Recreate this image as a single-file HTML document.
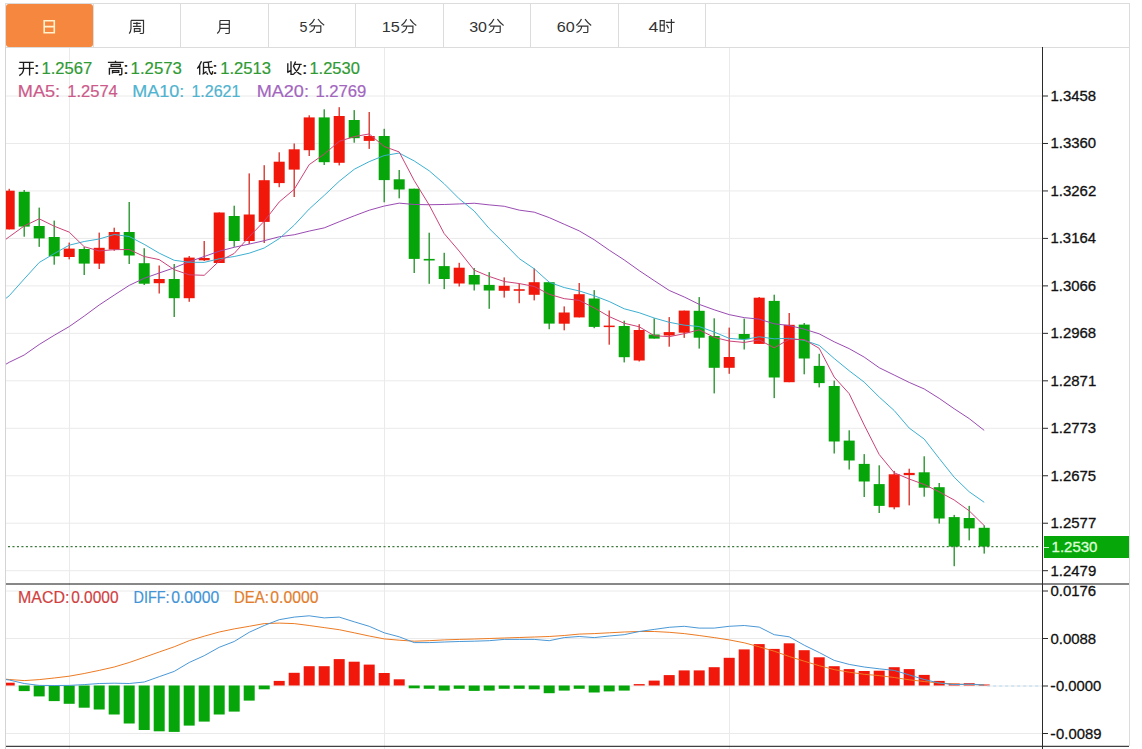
<!DOCTYPE html>
<html><head><meta charset="utf-8"><title>chart</title>
<style>html,body{margin:0;padding:0;background:#fff;width:1142px;height:749px;overflow:hidden;font-family:"Liberation Sans",sans-serif;}
svg{display:block;}</style></head><body>
<svg width="1142" height="749" viewBox="0 0 1142 749" font-family="Liberation Sans, sans-serif">
<defs><clipPath id="cp"><rect x="6" y="48" width="1036" height="535.5"/></clipPath><clipPath id="cm"><rect x="6" y="584.5" width="1036" height="161.5"/></clipPath></defs>
<rect width="1142" height="749" fill="#fff"/>
<rect x="5.5" y="3.5" width="1124" height="44" fill="#fff" stroke="#DCDCDC" stroke-width="1"/>
<line x1="93.5" y1="4" x2="93.5" y2="47" stroke="#DCDCDC"/>
<line x1="180.5" y1="4" x2="180.5" y2="47" stroke="#DCDCDC"/>
<line x1="268.5" y1="4" x2="268.5" y2="47" stroke="#DCDCDC"/>
<line x1="355.5" y1="4" x2="355.5" y2="47" stroke="#DCDCDC"/>
<line x1="443.5" y1="4" x2="443.5" y2="47" stroke="#DCDCDC"/>
<line x1="530.5" y1="4" x2="530.5" y2="47" stroke="#DCDCDC"/>
<line x1="618.5" y1="4" x2="618.5" y2="47" stroke="#DCDCDC"/>
<line x1="705.5" y1="4" x2="705.5" y2="47" stroke="#DCDCDC"/>
<rect x="6" y="4" width="87" height="43" rx="3" fill="#F5873E"/>
<line x1="5.5" y1="47" x2="5.5" y2="749" stroke="#D4D4D4"/>
<line x1="1129.5" y1="47" x2="1129.5" y2="746" stroke="#DCDCDC"/>
<line x1="6" y1="96.00" x2="1042" y2="96.00" stroke="#EAEAEA"/>
<line x1="6" y1="143.47" x2="1042" y2="143.47" stroke="#EAEAEA"/>
<line x1="6" y1="190.94" x2="1042" y2="190.94" stroke="#EAEAEA"/>
<line x1="6" y1="238.41" x2="1042" y2="238.41" stroke="#EAEAEA"/>
<line x1="6" y1="285.88" x2="1042" y2="285.88" stroke="#EAEAEA"/>
<line x1="6" y1="333.35" x2="1042" y2="333.35" stroke="#EAEAEA"/>
<line x1="6" y1="380.82" x2="1042" y2="380.82" stroke="#EAEAEA"/>
<line x1="6" y1="428.29" x2="1042" y2="428.29" stroke="#EAEAEA"/>
<line x1="6" y1="475.76" x2="1042" y2="475.76" stroke="#EAEAEA"/>
<line x1="6" y1="523.23" x2="1042" y2="523.23" stroke="#EAEAEA"/>
<line x1="6" y1="570.70" x2="1042" y2="570.70" stroke="#EAEAEA"/>
<line x1="6" y1="591.00" x2="1042" y2="591.00" stroke="#EAEAEA"/>
<line x1="6" y1="638.50" x2="1042" y2="638.50" stroke="#EAEAEA"/>
<line x1="6" y1="686.00" x2="1042" y2="686.00" stroke="#EAEAEA"/>
<line x1="6" y1="733.50" x2="1042" y2="733.50" stroke="#EAEAEA"/>
<line x1="69.5" y1="48" x2="69.5" y2="749" stroke="#EAEAEA"/>
<line x1="384.5" y1="48" x2="384.5" y2="749" stroke="#EAEAEA"/>
<line x1="729.5" y1="48" x2="729.5" y2="749" stroke="#EAEAEA"/>
<g clip-path="url(#cp)">
<rect x="8.55" y="188.8" width="1.3" height="40.6" fill="#D42A22"/>
<rect x="3.70" y="190.7" width="11.0" height="38.7" fill="#F1180B"/>
<rect x="23.55" y="190.0" width="1.3" height="46.7" fill="#1E8F22"/>
<rect x="18.70" y="191.8" width="11.0" height="34.8" fill="#06A60B"/>
<rect x="38.55" y="207.6" width="1.3" height="39.3" fill="#1E8F22"/>
<rect x="33.70" y="226.0" width="11.0" height="12.4" fill="#06A60B"/>
<rect x="53.55" y="220.6" width="1.3" height="44.1" fill="#1E8F22"/>
<rect x="48.70" y="237.0" width="11.0" height="19.3" fill="#06A60B"/>
<rect x="68.55" y="242.6" width="1.3" height="16.7" fill="#D42A22"/>
<rect x="63.70" y="248.6" width="11.0" height="8.4" fill="#F1180B"/>
<rect x="83.55" y="247.0" width="1.3" height="28.0" fill="#1E8F22"/>
<rect x="78.70" y="249.0" width="11.0" height="14.6" fill="#06A60B"/>
<rect x="98.55" y="232.6" width="1.3" height="36.4" fill="#D42A22"/>
<rect x="93.70" y="247.8" width="11.0" height="15.8" fill="#F1180B"/>
<rect x="113.55" y="227.7" width="1.3" height="23.1" fill="#D42A22"/>
<rect x="108.70" y="232.0" width="11.0" height="17.5" fill="#F1180B"/>
<rect x="128.55" y="202.0" width="1.3" height="62.0" fill="#1E8F22"/>
<rect x="123.70" y="232.0" width="11.0" height="23.5" fill="#06A60B"/>
<rect x="143.55" y="248.2" width="1.3" height="36.8" fill="#1E8F22"/>
<rect x="138.70" y="263.2" width="11.0" height="20.5" fill="#06A60B"/>
<rect x="158.55" y="265.5" width="1.3" height="28.0" fill="#D42A22"/>
<rect x="153.70" y="279.0" width="11.0" height="4.2" fill="#F1180B"/>
<rect x="173.55" y="264.0" width="1.3" height="53.0" fill="#1E8F22"/>
<rect x="168.70" y="279.0" width="11.0" height="19.2" fill="#06A60B"/>
<rect x="188.55" y="256.0" width="1.3" height="45.8" fill="#D42A22"/>
<rect x="183.70" y="257.6" width="11.0" height="40.6" fill="#F1180B"/>
<rect x="203.55" y="241.0" width="1.3" height="20.0" fill="#D42A22"/>
<rect x="198.70" y="258.0" width="11.0" height="2.3" fill="#F1180B"/>
<rect x="218.55" y="212.5" width="1.3" height="50.5" fill="#D42A22"/>
<rect x="213.70" y="212.5" width="11.0" height="50.5" fill="#F1180B"/>
<rect x="233.55" y="205.7" width="1.3" height="41.1" fill="#1E8F22"/>
<rect x="228.70" y="216.0" width="11.0" height="25.0" fill="#06A60B"/>
<rect x="248.55" y="173.4" width="1.3" height="70.6" fill="#D42A22"/>
<rect x="243.70" y="214.5" width="11.0" height="26.5" fill="#F1180B"/>
<rect x="263.55" y="165.2" width="1.3" height="77.8" fill="#D42A22"/>
<rect x="258.70" y="180.2" width="11.0" height="41.7" fill="#F1180B"/>
<rect x="278.55" y="152.3" width="1.3" height="34.9" fill="#D42A22"/>
<rect x="273.70" y="161.7" width="11.0" height="21.4" fill="#F1180B"/>
<rect x="293.55" y="143.5" width="1.3" height="53.5" fill="#D42A22"/>
<rect x="288.70" y="149.3" width="11.0" height="20.3" fill="#F1180B"/>
<rect x="308.55" y="115.3" width="1.3" height="40.7" fill="#D42A22"/>
<rect x="303.70" y="117.4" width="11.0" height="32.8" fill="#F1180B"/>
<rect x="323.55" y="109.3" width="1.3" height="55.7" fill="#1E8F22"/>
<rect x="318.70" y="117.4" width="11.0" height="44.8" fill="#06A60B"/>
<rect x="338.55" y="107.2" width="1.3" height="58.2" fill="#D42A22"/>
<rect x="333.70" y="116.0" width="11.0" height="46.8" fill="#F1180B"/>
<rect x="353.55" y="110.1" width="1.3" height="32.6" fill="#1E8F22"/>
<rect x="348.70" y="120.0" width="11.0" height="18.2" fill="#06A60B"/>
<rect x="368.55" y="112.0" width="1.3" height="36.9" fill="#D42A22"/>
<rect x="363.70" y="136.0" width="11.0" height="4.9" fill="#F1180B"/>
<rect x="383.55" y="128.8" width="1.3" height="73.5" fill="#1E8F22"/>
<rect x="378.70" y="136.0" width="11.0" height="44.1" fill="#06A60B"/>
<rect x="398.55" y="170.0" width="1.3" height="28.3" fill="#1E8F22"/>
<rect x="393.70" y="179.3" width="11.0" height="10.2" fill="#06A60B"/>
<rect x="413.55" y="188.7" width="1.3" height="84.3" fill="#1E8F22"/>
<rect x="408.70" y="188.7" width="11.0" height="70.2" fill="#06A60B"/>
<rect x="428.55" y="232.7" width="1.3" height="51.1" fill="#1E8F22"/>
<rect x="423.70" y="258.9" width="11.0" height="1.6" fill="#06A60B"/>
<rect x="443.55" y="252.8" width="1.3" height="36.3" fill="#1E8F22"/>
<rect x="438.70" y="266.1" width="11.0" height="12.9" fill="#06A60B"/>
<rect x="458.55" y="262.8" width="1.3" height="23.7" fill="#D42A22"/>
<rect x="453.70" y="267.7" width="11.0" height="15.8" fill="#F1180B"/>
<rect x="473.55" y="268.0" width="1.3" height="22.5" fill="#1E8F22"/>
<rect x="468.70" y="275.0" width="11.0" height="9.5" fill="#06A60B"/>
<rect x="488.55" y="272.1" width="1.3" height="36.7" fill="#1E8F22"/>
<rect x="483.70" y="284.9" width="11.0" height="5.6" fill="#06A60B"/>
<rect x="503.55" y="277.4" width="1.3" height="20.2" fill="#D42A22"/>
<rect x="498.70" y="285.8" width="11.0" height="5.0" fill="#F1180B"/>
<rect x="518.55" y="283.4" width="1.3" height="19.8" fill="#D42A22"/>
<rect x="513.70" y="289.2" width="11.0" height="1.6" fill="#F1180B"/>
<rect x="533.55" y="268.4" width="1.3" height="32.0" fill="#D42A22"/>
<rect x="528.70" y="282.2" width="11.0" height="12.6" fill="#F1180B"/>
<rect x="548.55" y="282.2" width="1.3" height="47.0" fill="#1E8F22"/>
<rect x="543.70" y="282.2" width="11.0" height="41.4" fill="#06A60B"/>
<rect x="563.55" y="306.4" width="1.3" height="23.9" fill="#D42A22"/>
<rect x="558.70" y="312.5" width="11.0" height="11.2" fill="#F1180B"/>
<rect x="578.55" y="283.0" width="1.3" height="34.4" fill="#D42A22"/>
<rect x="573.70" y="294.2" width="11.0" height="23.2" fill="#F1180B"/>
<rect x="593.55" y="290.1" width="1.3" height="38.1" fill="#1E8F22"/>
<rect x="588.70" y="298.5" width="11.0" height="28.4" fill="#06A60B"/>
<rect x="608.55" y="310.5" width="1.3" height="34.2" fill="#D42A22"/>
<rect x="603.70" y="325.6" width="11.0" height="1.5" fill="#F1180B"/>
<rect x="623.55" y="320.7" width="1.3" height="41.7" fill="#1E8F22"/>
<rect x="618.70" y="326.0" width="11.0" height="31.2" fill="#06A60B"/>
<rect x="638.55" y="324.2" width="1.3" height="37.3" fill="#D42A22"/>
<rect x="633.70" y="330.0" width="11.0" height="30.5" fill="#F1180B"/>
<rect x="653.55" y="318.3" width="1.3" height="20.3" fill="#1E8F22"/>
<rect x="648.70" y="334.5" width="11.0" height="4.1" fill="#06A60B"/>
<rect x="668.55" y="317.1" width="1.3" height="29.6" fill="#D42A22"/>
<rect x="663.70" y="332.1" width="11.0" height="3.4" fill="#F1180B"/>
<rect x="683.55" y="310.6" width="1.3" height="27.3" fill="#D42A22"/>
<rect x="678.70" y="310.6" width="11.0" height="22.1" fill="#F1180B"/>
<rect x="698.55" y="297.1" width="1.3" height="51.5" fill="#1E8F22"/>
<rect x="693.70" y="310.8" width="11.0" height="26.9" fill="#06A60B"/>
<rect x="713.55" y="318.3" width="1.3" height="75.1" fill="#1E8F22"/>
<rect x="708.70" y="336.0" width="11.0" height="31.8" fill="#06A60B"/>
<rect x="728.55" y="327.6" width="1.3" height="46.2" fill="#D42A22"/>
<rect x="723.70" y="357.0" width="11.0" height="10.8" fill="#F1180B"/>
<rect x="743.55" y="318.6" width="1.3" height="30.9" fill="#1E8F22"/>
<rect x="738.70" y="334.0" width="11.0" height="5.2" fill="#06A60B"/>
<rect x="758.55" y="297.0" width="1.3" height="46.9" fill="#D42A22"/>
<rect x="753.70" y="297.7" width="11.0" height="46.2" fill="#F1180B"/>
<rect x="773.55" y="294.7" width="1.3" height="103.4" fill="#1E8F22"/>
<rect x="768.70" y="300.9" width="11.0" height="76.6" fill="#06A60B"/>
<rect x="788.55" y="313.0" width="1.3" height="69.2" fill="#D42A22"/>
<rect x="783.70" y="324.8" width="11.0" height="57.4" fill="#F1180B"/>
<rect x="803.55" y="323.0" width="1.3" height="51.3" fill="#1E8F22"/>
<rect x="798.70" y="324.6" width="11.0" height="33.9" fill="#06A60B"/>
<rect x="818.55" y="353.8" width="1.3" height="33.6" fill="#1E8F22"/>
<rect x="813.70" y="365.9" width="11.0" height="17.2" fill="#06A60B"/>
<rect x="833.55" y="380.6" width="1.3" height="72.9" fill="#1E8F22"/>
<rect x="828.70" y="386.0" width="11.0" height="55.5" fill="#06A60B"/>
<rect x="848.55" y="430.3" width="1.3" height="39.2" fill="#1E8F22"/>
<rect x="843.70" y="440.6" width="11.0" height="19.9" fill="#06A60B"/>
<rect x="863.55" y="454.1" width="1.3" height="42.9" fill="#1E8F22"/>
<rect x="858.70" y="463.9" width="11.0" height="17.6" fill="#06A60B"/>
<rect x="878.55" y="465.3" width="1.3" height="47.7" fill="#1E8F22"/>
<rect x="873.70" y="484.1" width="11.0" height="21.8" fill="#06A60B"/>
<rect x="893.55" y="470.9" width="1.3" height="38.4" fill="#D42A22"/>
<rect x="888.70" y="474.3" width="11.0" height="33.0" fill="#F1180B"/>
<rect x="908.55" y="468.7" width="1.3" height="36.7" fill="#D42A22"/>
<rect x="903.70" y="472.9" width="11.0" height="2.2" fill="#F1180B"/>
<rect x="923.55" y="456.3" width="1.3" height="40.4" fill="#1E8F22"/>
<rect x="918.70" y="472.3" width="11.0" height="15.4" fill="#06A60B"/>
<rect x="938.55" y="483.0" width="1.3" height="40.6" fill="#1E8F22"/>
<rect x="933.70" y="487.2" width="11.0" height="31.3" fill="#06A60B"/>
<rect x="953.55" y="514.9" width="1.3" height="51.3" fill="#1E8F22"/>
<rect x="948.70" y="517.1" width="11.0" height="29.5" fill="#06A60B"/>
<rect x="968.55" y="505.9" width="1.3" height="34.5" fill="#1E8F22"/>
<rect x="963.70" y="518.0" width="11.0" height="10.4" fill="#06A60B"/>
<rect x="983.55" y="525.3" width="1.3" height="28.3" fill="#1E8F22"/>
<rect x="978.70" y="527.8" width="11.0" height="18.8" fill="#06A60B"/>
<polyline points="-5.80,371.00 9.20,362.30 24.20,355.00 39.20,344.50 54.20,335.30 69.20,326.60 84.20,316.10 99.20,305.00 114.20,295.10 129.20,285.40 144.20,278.30 159.20,273.00 174.20,267.80 189.20,261.70 204.20,256.50 219.20,251.20 234.20,247.30 249.20,244.10 264.20,240.70 279.20,236.80 294.20,234.76 309.20,231.09 324.20,227.88 339.20,221.76 354.20,215.85 369.20,210.22 384.20,206.04 399.20,203.13 414.20,204.47 429.20,204.72 444.20,204.49 459.20,203.93 474.20,203.24 489.20,204.88 504.20,206.28 519.20,210.11 534.20,212.17 549.20,217.62 564.20,224.24 579.20,230.87 594.20,239.74 609.20,250.16 624.20,259.91 639.20,270.61 654.20,280.62 669.20,290.43 684.20,296.96 699.20,304.37 714.20,309.81 729.20,314.63 744.20,317.64 759.20,319.14 774.20,323.79 789.20,325.51 804.20,329.14 819.20,333.84 834.20,341.81 849.20,348.65 864.20,357.10 879.20,367.69 894.20,375.06 909.20,382.42 924.20,388.94 939.20,398.37 954.20,408.77 969.20,418.59 984.20,430.39" fill="none" stroke="#9A4BB2" stroke-width="1.00" stroke-linejoin="round"/>
<polyline points="-5.80,307.40 9.20,295.80 24.20,279.00 39.20,262.50 54.20,253.60 69.20,245.20 84.20,241.50 99.20,239.00 114.20,234.50 129.20,236.50 144.20,244.32 159.20,253.15 174.20,260.31 189.20,262.23 204.20,262.40 219.20,258.79 234.20,256.53 249.20,253.20 264.20,248.02 279.20,238.64 294.20,225.20 309.20,209.04 324.20,195.44 339.20,181.28 354.20,169.30 369.20,161.65 384.20,155.56 399.20,153.06 414.20,160.93 429.20,170.81 444.20,183.78 459.20,198.81 474.20,211.04 489.20,228.49 504.20,243.25 519.20,258.57 534.20,268.78 549.20,282.19 564.20,287.55 579.20,290.92 594.20,295.71 609.20,301.50 624.20,308.77 639.20,312.72 654.20,318.00 669.20,322.29 684.20,325.13 699.20,326.54 714.20,332.07 729.20,338.35 744.20,339.58 759.20,336.79 774.20,338.82 789.20,338.30 804.20,340.29 819.20,345.39 834.20,358.48 849.20,370.76 864.20,382.13 879.20,397.02 894.20,410.53 909.20,428.05 924.20,439.07 939.20,458.44 954.20,477.25 969.20,491.78 984.20,502.29" fill="none" stroke="#3DB0D2" stroke-width="1.00" stroke-linejoin="round"/>
<polyline points="-5.80,248.00 9.20,236.80 24.20,226.00 39.20,218.80 54.20,226.20 69.20,232.12 84.20,246.70 99.20,250.94 114.20,249.66 129.20,249.50 144.20,256.52 159.20,259.60 174.20,269.68 189.20,274.80 204.20,275.30 219.20,261.06 234.20,253.46 249.20,236.72 264.20,221.24 279.20,201.98 294.20,189.34 309.20,164.62 324.20,154.16 339.20,141.32 354.20,136.62 369.20,133.96 384.20,146.50 399.20,151.96 414.20,180.54 429.20,205.00 444.20,233.60 459.20,251.12 474.20,270.12 489.20,276.44 504.20,281.50 519.20,283.54 534.20,286.44 549.20,294.26 564.20,298.66 579.20,300.34 594.20,307.88 609.20,316.56 624.20,323.28 639.20,326.78 654.20,335.66 669.20,336.70 684.20,333.70 699.20,329.80 714.20,337.36 729.20,341.04 744.20,342.46 759.20,339.88 774.20,347.84 789.20,339.24 804.20,339.54 819.20,348.32 834.20,377.08 849.20,393.68 864.20,425.02 879.20,454.50 894.20,472.74 909.20,479.02 924.20,484.46 939.20,491.86 954.20,500.00 969.20,510.82 984.20,525.56" fill="none" stroke="#CC4278" stroke-width="1.00" stroke-linejoin="round"/>
</g>
<line x1="6" y1="546.5" x2="1040" y2="546.5" stroke="#3F7A3F" stroke-width="1.25" stroke-dasharray="2.1,2.37" stroke-dashoffset="2.5"/>
<g clip-path="url(#cm)">
<rect x="3.70" y="682.70" width="11.0" height="2.80" fill="#F1180B"/>
<rect x="18.70" y="685.50" width="11.0" height="5.60" fill="#06A60B"/>
<rect x="33.70" y="685.50" width="11.0" height="10.90" fill="#06A60B"/>
<rect x="48.70" y="685.50" width="11.0" height="15.60" fill="#06A60B"/>
<rect x="63.70" y="685.50" width="11.0" height="18.30" fill="#06A60B"/>
<rect x="78.70" y="685.50" width="11.0" height="22.20" fill="#06A60B"/>
<rect x="93.70" y="685.50" width="11.0" height="24.00" fill="#06A60B"/>
<rect x="108.70" y="685.50" width="11.0" height="29.00" fill="#06A60B"/>
<rect x="123.70" y="685.50" width="11.0" height="38.00" fill="#06A60B"/>
<rect x="138.70" y="685.50" width="11.0" height="44.50" fill="#06A60B"/>
<rect x="153.70" y="685.50" width="11.0" height="45.80" fill="#06A60B"/>
<rect x="168.70" y="685.50" width="11.0" height="46.40" fill="#06A60B"/>
<rect x="183.70" y="685.50" width="11.0" height="40.10" fill="#06A60B"/>
<rect x="198.70" y="685.50" width="11.0" height="36.10" fill="#06A60B"/>
<rect x="213.70" y="685.50" width="11.0" height="29.00" fill="#06A60B"/>
<rect x="228.70" y="685.50" width="11.0" height="26.10" fill="#06A60B"/>
<rect x="243.70" y="685.50" width="11.0" height="15.10" fill="#06A60B"/>
<rect x="258.70" y="685.50" width="11.0" height="3.80" fill="#06A60B"/>
<rect x="273.70" y="680.90" width="11.0" height="4.60" fill="#F1180B"/>
<rect x="288.70" y="672.80" width="11.0" height="12.70" fill="#F1180B"/>
<rect x="303.70" y="666.20" width="11.0" height="19.30" fill="#F1180B"/>
<rect x="318.70" y="666.20" width="11.0" height="19.30" fill="#F1180B"/>
<rect x="333.70" y="659.10" width="11.0" height="26.40" fill="#F1180B"/>
<rect x="348.70" y="661.70" width="11.0" height="23.80" fill="#F1180B"/>
<rect x="363.70" y="664.60" width="11.0" height="20.90" fill="#F1180B"/>
<rect x="378.70" y="673.00" width="11.0" height="12.50" fill="#F1180B"/>
<rect x="393.70" y="679.30" width="11.0" height="6.20" fill="#F1180B"/>
<rect x="408.70" y="685.50" width="11.0" height="2.80" fill="#06A60B"/>
<rect x="423.70" y="685.50" width="11.0" height="3.30" fill="#06A60B"/>
<rect x="438.70" y="685.50" width="11.0" height="5.10" fill="#06A60B"/>
<rect x="453.70" y="685.50" width="11.0" height="3.30" fill="#06A60B"/>
<rect x="468.70" y="685.50" width="11.0" height="5.40" fill="#06A60B"/>
<rect x="483.70" y="685.50" width="11.0" height="5.10" fill="#06A60B"/>
<rect x="498.70" y="685.50" width="11.0" height="3.30" fill="#06A60B"/>
<rect x="513.70" y="685.50" width="11.0" height="3.30" fill="#06A60B"/>
<rect x="528.70" y="685.50" width="11.0" height="3.80" fill="#06A60B"/>
<rect x="543.70" y="685.50" width="11.0" height="7.70" fill="#06A60B"/>
<rect x="558.70" y="685.50" width="11.0" height="5.10" fill="#06A60B"/>
<rect x="573.70" y="685.50" width="11.0" height="3.30" fill="#06A60B"/>
<rect x="588.70" y="685.50" width="11.0" height="7.00" fill="#06A60B"/>
<rect x="603.70" y="685.50" width="11.0" height="5.90" fill="#06A60B"/>
<rect x="618.70" y="685.50" width="11.0" height="5.10" fill="#06A60B"/>
<rect x="633.70" y="684.10" width="11.0" height="1.40" fill="#F1180B"/>
<rect x="648.70" y="680.60" width="11.0" height="4.90" fill="#F1180B"/>
<rect x="663.70" y="675.10" width="11.0" height="10.40" fill="#F1180B"/>
<rect x="678.70" y="670.40" width="11.0" height="15.10" fill="#F1180B"/>
<rect x="693.70" y="670.40" width="11.0" height="15.10" fill="#F1180B"/>
<rect x="708.70" y="667.20" width="11.0" height="18.30" fill="#F1180B"/>
<rect x="723.70" y="657.80" width="11.0" height="27.70" fill="#F1180B"/>
<rect x="738.70" y="649.40" width="11.0" height="36.10" fill="#F1180B"/>
<rect x="753.70" y="644.10" width="11.0" height="41.40" fill="#F1180B"/>
<rect x="768.70" y="648.90" width="11.0" height="36.60" fill="#F1180B"/>
<rect x="783.70" y="643.30" width="11.0" height="42.20" fill="#F1180B"/>
<rect x="798.70" y="650.20" width="11.0" height="35.30" fill="#F1180B"/>
<rect x="813.70" y="657.30" width="11.0" height="28.20" fill="#F1180B"/>
<rect x="828.70" y="666.20" width="11.0" height="19.30" fill="#F1180B"/>
<rect x="843.70" y="669.10" width="11.0" height="16.40" fill="#F1180B"/>
<rect x="858.70" y="671.00" width="11.0" height="14.50" fill="#F1180B"/>
<rect x="873.70" y="670.70" width="11.0" height="14.80" fill="#F1180B"/>
<rect x="888.70" y="667.20" width="11.0" height="18.30" fill="#F1180B"/>
<rect x="903.70" y="669.10" width="11.0" height="16.40" fill="#F1180B"/>
<rect x="918.70" y="674.90" width="11.0" height="10.60" fill="#F1180B"/>
<rect x="933.70" y="680.90" width="11.0" height="4.60" fill="#F1180B"/>
<rect x="948.70" y="683.50" width="11.0" height="2.00" fill="#F1180B"/>
<rect x="963.70" y="683.20" width="11.0" height="2.30" fill="#F1180B"/>
<rect x="978.70" y="684.50" width="11.0" height="1.00" fill="#F1180B"/>
<polyline points="-5.80,678.00 9.20,679.50 24.20,680.60 39.20,679.60 54.20,678.00 69.20,676.20 84.20,673.50 99.20,670.40 114.20,667.00 129.20,662.50 144.20,657.30 159.20,652.00 174.20,646.80 189.20,640.70 204.20,636.20 219.20,632.00 234.20,628.90 249.20,626.30 264.20,623.60 279.20,623.10 294.20,623.60 309.20,625.50 324.20,627.60 339.20,629.70 354.20,632.80 369.20,636.00 384.20,638.90 399.20,640.20 414.20,641.20 429.20,640.70 444.20,639.90 459.20,639.40 474.20,639.00 489.20,638.50 504.20,638.00 519.20,637.50 534.20,637.00 549.20,636.50 564.20,635.50 579.20,634.10 594.20,633.60 609.20,632.80 624.20,632.00 639.20,631.50 654.20,631.50 669.20,632.30 684.20,633.60 699.20,635.50 714.20,637.60 729.20,639.90 744.20,642.80 759.20,646.80 774.20,651.20 789.20,656.50 804.20,661.20 819.20,665.70 834.20,669.60 849.20,672.20 864.20,674.30 879.20,675.60 894.20,677.50 909.20,679.80 924.20,681.50 939.20,683.00 954.20,684.10 969.20,684.50 984.20,684.80" fill="none" stroke="#EC7B24" stroke-width="1.00" stroke-linejoin="round"/>
<polyline points="-5.80,678.00 9.20,680.00 24.20,683.50 39.20,685.40 54.20,685.50 69.20,685.40 84.20,684.60 99.20,683.50 114.20,683.20 129.20,683.50 144.20,682.00 159.20,676.70 174.20,671.40 189.20,662.50 204.20,655.70 219.20,647.30 234.20,641.50 249.20,632.30 264.20,625.50 279.20,619.70 294.20,617.10 309.20,615.80 324.20,617.90 339.20,617.10 354.20,621.80 369.20,626.30 384.20,632.80 399.20,636.80 414.20,642.60 429.20,642.60 444.20,642.00 459.20,641.50 474.20,641.20 489.20,640.70 504.20,639.40 519.20,639.40 534.20,639.40 549.20,640.70 564.20,637.60 579.20,636.50 594.20,637.60 609.20,636.00 624.20,634.70 639.20,631.50 654.20,629.40 669.20,627.30 684.20,626.30 699.20,628.10 714.20,628.10 729.20,626.30 744.20,625.50 759.20,627.10 774.20,634.70 789.20,636.80 804.20,645.20 819.20,652.50 834.20,660.40 849.20,664.40 864.20,667.00 879.20,668.80 894.20,670.40 909.20,674.90 924.20,679.50 939.20,683.00 954.20,684.60 969.20,684.20 984.20,685.00" fill="none" stroke="#4A98D6" stroke-width="1.00" stroke-linejoin="round"/>
</g>
<line x1="987.2" y1="686" x2="1042" y2="686" stroke="#B4D8F0" stroke-dasharray="3,3"/>
<line x1="6" y1="584" x2="1129" y2="584" stroke="#111"/>
<line x1="6" y1="746.3" x2="1129" y2="746.3" stroke="#111"/>
<line x1="1042.5" y1="47" x2="1042.5" y2="749" stroke="#2A2A2A"/>
<line x1="1043" y1="96.00" x2="1048" y2="96.00" stroke="#2A2A2A"/>
<text x="1050.46" y="101.00" font-size="15.20" fill="#111" textLength="45.69" lengthAdjust="spacingAndGlyphs" stroke="#111" stroke-width="0.30">1.3458</text>
<line x1="1043" y1="143.47" x2="1048" y2="143.47" stroke="#2A2A2A"/>
<text x="1050.46" y="148.47" font-size="15.20" fill="#111" textLength="45.62" lengthAdjust="spacingAndGlyphs" stroke="#111" stroke-width="0.30">1.3360</text>
<line x1="1043" y1="190.94" x2="1048" y2="190.94" stroke="#2A2A2A"/>
<text x="1050.46" y="195.94" font-size="15.20" fill="#111" textLength="45.79" lengthAdjust="spacingAndGlyphs" stroke="#111" stroke-width="0.30">1.3262</text>
<line x1="1043" y1="238.41" x2="1048" y2="238.41" stroke="#2A2A2A"/>
<text x="1050.47" y="243.41" font-size="15.20" fill="#111" textLength="45.47" lengthAdjust="spacingAndGlyphs" stroke="#111" stroke-width="0.30">1.3164</text>
<line x1="1043" y1="285.88" x2="1048" y2="285.88" stroke="#2A2A2A"/>
<text x="1050.46" y="290.88" font-size="15.20" fill="#111" textLength="45.69" lengthAdjust="spacingAndGlyphs" stroke="#111" stroke-width="0.30">1.3066</text>
<line x1="1043" y1="333.35" x2="1048" y2="333.35" stroke="#2A2A2A"/>
<text x="1050.46" y="338.35" font-size="15.20" fill="#111" textLength="45.69" lengthAdjust="spacingAndGlyphs" stroke="#111" stroke-width="0.30">1.2968</text>
<line x1="1043" y1="380.82" x2="1048" y2="380.82" stroke="#2A2A2A"/>
<text x="1050.46" y="385.82" font-size="15.20" fill="#111" textLength="45.77" lengthAdjust="spacingAndGlyphs" stroke="#111" stroke-width="0.30">1.2871</text>
<line x1="1043" y1="428.29" x2="1048" y2="428.29" stroke="#2A2A2A"/>
<text x="1050.46" y="433.29" font-size="15.20" fill="#111" textLength="45.69" lengthAdjust="spacingAndGlyphs" stroke="#111" stroke-width="0.30">1.2773</text>
<line x1="1043" y1="475.76" x2="1048" y2="475.76" stroke="#2A2A2A"/>
<text x="1050.46" y="480.76" font-size="15.20" fill="#111" textLength="45.66" lengthAdjust="spacingAndGlyphs" stroke="#111" stroke-width="0.30">1.2675</text>
<line x1="1043" y1="523.23" x2="1048" y2="523.23" stroke="#2A2A2A"/>
<text x="1050.46" y="528.23" font-size="15.20" fill="#111" textLength="45.79" lengthAdjust="spacingAndGlyphs" stroke="#111" stroke-width="0.30">1.2577</text>
<line x1="1043" y1="570.70" x2="1048" y2="570.70" stroke="#2A2A2A"/>
<text x="1050.46" y="575.70" font-size="15.20" fill="#111" textLength="45.75" lengthAdjust="spacingAndGlyphs" stroke="#111" stroke-width="0.30">1.2479</text>
<line x1="1043" y1="591.00" x2="1048" y2="591.00" stroke="#2A2A2A"/>
<text x="1050.42" y="596.00" font-size="15.20" fill="#111" textLength="45.74" lengthAdjust="spacingAndGlyphs" stroke="#111" stroke-width="0.30">0.0176</text>
<line x1="1043" y1="638.50" x2="1048" y2="638.50" stroke="#2A2A2A"/>
<text x="1050.42" y="643.50" font-size="15.20" fill="#111" textLength="45.73" lengthAdjust="spacingAndGlyphs" stroke="#111" stroke-width="0.30">0.0088</text>
<line x1="1043" y1="686.00" x2="1048" y2="686.00" stroke="#2A2A2A"/>
<text x="1050.27" y="691.00" font-size="15.20" fill="#111" textLength="5.46" lengthAdjust="spacingAndGlyphs" stroke="#111" stroke-width="0.30">-</text>
<text x="1056.02" y="691.00" font-size="15.20" fill="#111" textLength="45.26" lengthAdjust="spacingAndGlyphs" stroke="#111" stroke-width="0.30">0.0000</text>
<line x1="1043" y1="733.50" x2="1048" y2="733.50" stroke="#2A2A2A"/>
<text x="1050.27" y="738.50" font-size="15.20" fill="#111" textLength="5.46" lengthAdjust="spacingAndGlyphs" stroke="#111" stroke-width="0.30">-</text>
<text x="1056.02" y="738.50" font-size="15.20" fill="#111" textLength="45.38" lengthAdjust="spacingAndGlyphs" stroke="#111" stroke-width="0.30">0.0089</text>
<rect x="1044" y="536" width="85" height="22" fill="#06A708"/>
<line x1="1044" y1="547.5" x2="1049" y2="547.5" stroke="#C8F5C8"/>
<text x="1051.56" y="552.20" font-size="15.20" fill="#DDFFD8" textLength="45.83" lengthAdjust="spacingAndGlyphs" stroke="#DDFFD8" stroke-width="0.35">1.2530</text>
<text x="1052" y="758.6" font-size="15" fill="#111">100.0434</text>
<text x="41.43" y="73.70" font-size="15.80" fill="#2F9A33" textLength="50.80" lengthAdjust="spacingAndGlyphs" stroke="#2F9A33" stroke-width="0.20">1.2567</text>
<text x="130.62" y="73.70" font-size="15.80" fill="#2F9A33" textLength="51.32" lengthAdjust="spacingAndGlyphs" stroke="#2F9A33" stroke-width="0.20">1.2573</text>
<text x="220.23" y="73.70" font-size="15.80" fill="#2F9A33" textLength="50.90" lengthAdjust="spacingAndGlyphs" stroke="#2F9A33" stroke-width="0.20">1.2513</text>
<text x="309.44" y="73.70" font-size="15.80" fill="#2F9A33" textLength="50.40" lengthAdjust="spacingAndGlyphs" stroke="#2F9A33" stroke-width="0.20">1.2530</text>
<text x="17.81" y="96.80" font-size="16.30" fill="#CC5A8A" textLength="42.34" lengthAdjust="spacingAndGlyphs" stroke="#CC5A8A" stroke-width="0.20">MA5:</text>
<text x="67.24" y="96.80" font-size="16.30" fill="#CC5A8A" textLength="50.54" lengthAdjust="spacingAndGlyphs" stroke="#CC5A8A" stroke-width="0.20">1.2574</text>
<text x="132.33" y="96.80" font-size="16.30" fill="#4FB3CF" textLength="51.91" lengthAdjust="spacingAndGlyphs" stroke="#4FB3CF" stroke-width="0.20">MA10:</text>
<text x="191.38" y="96.80" font-size="16.30" fill="#4FB3CF" textLength="49.00" lengthAdjust="spacingAndGlyphs" stroke="#4FB3CF" stroke-width="0.20">1.2621</text>
<text x="256.72" y="96.80" font-size="16.30" fill="#A266BE" textLength="52.23" lengthAdjust="spacingAndGlyphs" stroke="#A266BE" stroke-width="0.20">MA20:</text>
<text x="315.43" y="96.80" font-size="16.30" fill="#A266BE" textLength="50.96" lengthAdjust="spacingAndGlyphs" stroke="#A266BE" stroke-width="0.20">1.2769</text>
<text x="17.99" y="602.80" font-size="15.60" fill="#D04040" textLength="51.47" lengthAdjust="spacingAndGlyphs" stroke="#D04040" stroke-width="0.20">MACD:</text>
<text x="71.20" y="602.80" font-size="15.60" fill="#D04040" textLength="47.31" lengthAdjust="spacingAndGlyphs" stroke="#D04040" stroke-width="0.20">0.0000</text>
<text x="133.52" y="602.80" font-size="15.60" fill="#4294D6" textLength="36.10" lengthAdjust="spacingAndGlyphs" stroke="#4294D6" stroke-width="0.20">DIFF:</text>
<text x="171.19" y="602.80" font-size="15.60" fill="#4294D6" textLength="48.03" lengthAdjust="spacingAndGlyphs" stroke="#4294D6" stroke-width="0.20">0.0000</text>
<text x="233.97" y="602.80" font-size="15.60" fill="#E27D2C" textLength="34.89" lengthAdjust="spacingAndGlyphs" stroke="#E27D2C" stroke-width="0.20">DEA:</text>
<text x="270.29" y="602.80" font-size="15.60" fill="#E27D2C" textLength="48.13" lengthAdjust="spacingAndGlyphs" stroke="#E27D2C" stroke-width="0.20">0.0000</text>
<text x="33.59" y="73.70" font-size="15.80" fill="#222" textLength="6.42" lengthAdjust="spacingAndGlyphs">:</text>
<text x="122.89" y="73.70" font-size="15.80" fill="#222" textLength="6.42" lengthAdjust="spacingAndGlyphs">:</text>
<text x="211.89" y="73.70" font-size="15.80" fill="#222" textLength="6.42" lengthAdjust="spacingAndGlyphs">:</text>
<text x="301.49" y="73.70" font-size="15.80" fill="#222" textLength="6.42" lengthAdjust="spacingAndGlyphs">:</text>
<path d="M44.2,20.8H54.3V32.8H44.2Z M44.2,26.6H54.3" fill="none" stroke="#FFF3CF" stroke-width="1.60" stroke-linecap="butt" stroke-linejoin="miter"/>
<path d="M131,20.4 H143.5 V32.6 Q143.5,33.5 142.5,33.5 H139.8 M131,20.4 V28.5 Q130.8,31.8 129.2,33.7 M133.1,23.4 H140.7 M136.9,22.0 V26.4 M132.9,26.4 H141.3 M134.4,28.6 H140 V31.4 H134.4 Z M134.4,31.4 V32.5" fill="none" stroke="#333333" stroke-width="1.20" stroke-linecap="butt" stroke-linejoin="miter"/>
<path d="M219.9,20.5 H229.3 V32.8 Q229.3,33.5 228.3,33.5 H225.3 M219.9,20.5 V29 Q219.6,31.8 217.2,33.6 M219.9,24.35 H229.3 M219.9,28.3 H229.3" fill="none" stroke="#333333" stroke-width="1.20" stroke-linecap="butt" stroke-linejoin="miter"/>
<text x="299.53" y="31.80" font-size="15.50" fill="#333333" textLength="7.98" lengthAdjust="spacingAndGlyphs">5</text>
<path d="M314.50,18.90 Q312.90,22.50 309.30,25.20 M318.00,19.00 Q320.90,23.10 324.20,25.20 M310.60,25.90 H320.80 V31.60 Q320.80,32.30 320.00,32.30 H316.10 M314.60,26.50 Q314.20,30.50 309.50,32.30" fill="none" stroke="#333333" stroke-width="1.20" stroke-linecap="butt" stroke-linejoin="miter"/>
<text x="381.66" y="31.80" font-size="15.50" fill="#333333" textLength="18.13" lengthAdjust="spacingAndGlyphs">15</text>
<path d="M406.60,19.20 Q405.00,22.80 401.40,25.50 M410.10,19.30 Q413.00,23.40 416.30,25.50 M402.70,26.20 H412.90 V31.90 Q412.90,32.60 412.10,32.60 H408.20 M406.70,26.80 Q406.30,30.80 401.60,32.60" fill="none" stroke="#333333" stroke-width="1.20" stroke-linecap="butt" stroke-linejoin="miter"/>
<text x="469.19" y="31.80" font-size="15.50" fill="#333333" textLength="17.84" lengthAdjust="spacingAndGlyphs">30</text>
<path d="M493.90,19.10 Q492.30,22.70 488.70,25.40 M497.40,19.20 Q500.30,23.30 503.60,25.40 M490.00,26.10 H500.20 V31.80 Q500.20,32.50 499.40,32.50 H495.50 M494.00,26.70 Q493.60,30.70 488.90,32.50" fill="none" stroke="#333333" stroke-width="1.20" stroke-linecap="butt" stroke-linejoin="miter"/>
<text x="556.68" y="31.80" font-size="15.50" fill="#333333" textLength="17.95" lengthAdjust="spacingAndGlyphs">60</text>
<path d="M581.50,19.10 Q579.90,22.70 576.30,25.40 M585.00,19.20 Q587.90,23.30 591.20,25.40 M577.60,26.10 H587.80 V31.80 Q587.80,32.50 587.00,32.50 H583.10 M581.60,26.70 Q581.20,30.70 576.50,32.50" fill="none" stroke="#333333" stroke-width="1.20" stroke-linecap="butt" stroke-linejoin="miter"/>
<text x="648.59" y="31.80" font-size="15.50" fill="#333333" textLength="9.82" lengthAdjust="spacingAndGlyphs">4</text>
<path d="M660.2,20.6 H664.2 V31.2 H660.2 Z M660.2,25.2 H664.2 M665.8,22.3 H674.6 M671.4,19.1 V31.8 Q671.4,32.5 670.6,32.5 H667.7 M666.6,24.6 L668.6,28.4" fill="none" stroke="#333333" stroke-width="1.20" stroke-linecap="butt" stroke-linejoin="miter"/>
<path d="M19.3,62.4 H33.7 M18.6,68.4 H34 M23.5,62.4 V70 Q23,73.5 19.3,75.6 M29.6,62.4 V75.6" fill="none" stroke="#1E1E1E" stroke-width="1.35" stroke-linecap="butt" stroke-linejoin="miter"/>
<path d="M115.5,60.8 V62.4 M107.9,62.4 H123.7 M111.1,64.4 H120.4 V66.3 H111.1 Z M109.4,74.7 V68.4 H121.8 V74 Q121.8,74.7 121,74.7 H118.9 M112.5,73.5 V70.6 H118.8 V72.4 H112.5" fill="none" stroke="#1E1E1E" stroke-width="1.35" stroke-linecap="butt" stroke-linejoin="miter"/>
<path d="M201.5,61.3 Q199.8,65.5 197.3,68.6 M199.7,65.2 V74.7 M203.5,62.4 Q208,62.6 211.9,61.3 M203.5,62.4 V74.3 M203.5,67.3 H212.7 M208.4,62.4 Q208.6,72 211.4,74.3 Q212.2,74.6 212.7,71.1 M202.5,74.3 L206.6,71.6 M206.6,73 L207.9,74.6" fill="none" stroke="#1E1E1E" stroke-width="1.35" stroke-linecap="butt" stroke-linejoin="miter"/>
<path d="M287.8,63.2 V72 M287.3,72.6 L291,70.2 M291,61.3 V74.4 H293.7 M295.6,61.5 L293.4,66.5 M294.5,64.4 H301.7 M299.8,65.2 Q298.8,70 293.7,74 M293.4,66 Q296,72.5 301.4,74.7" fill="none" stroke="#1E1E1E" stroke-width="1.35" stroke-linecap="butt" stroke-linejoin="miter"/>
</svg>
</body></html>
